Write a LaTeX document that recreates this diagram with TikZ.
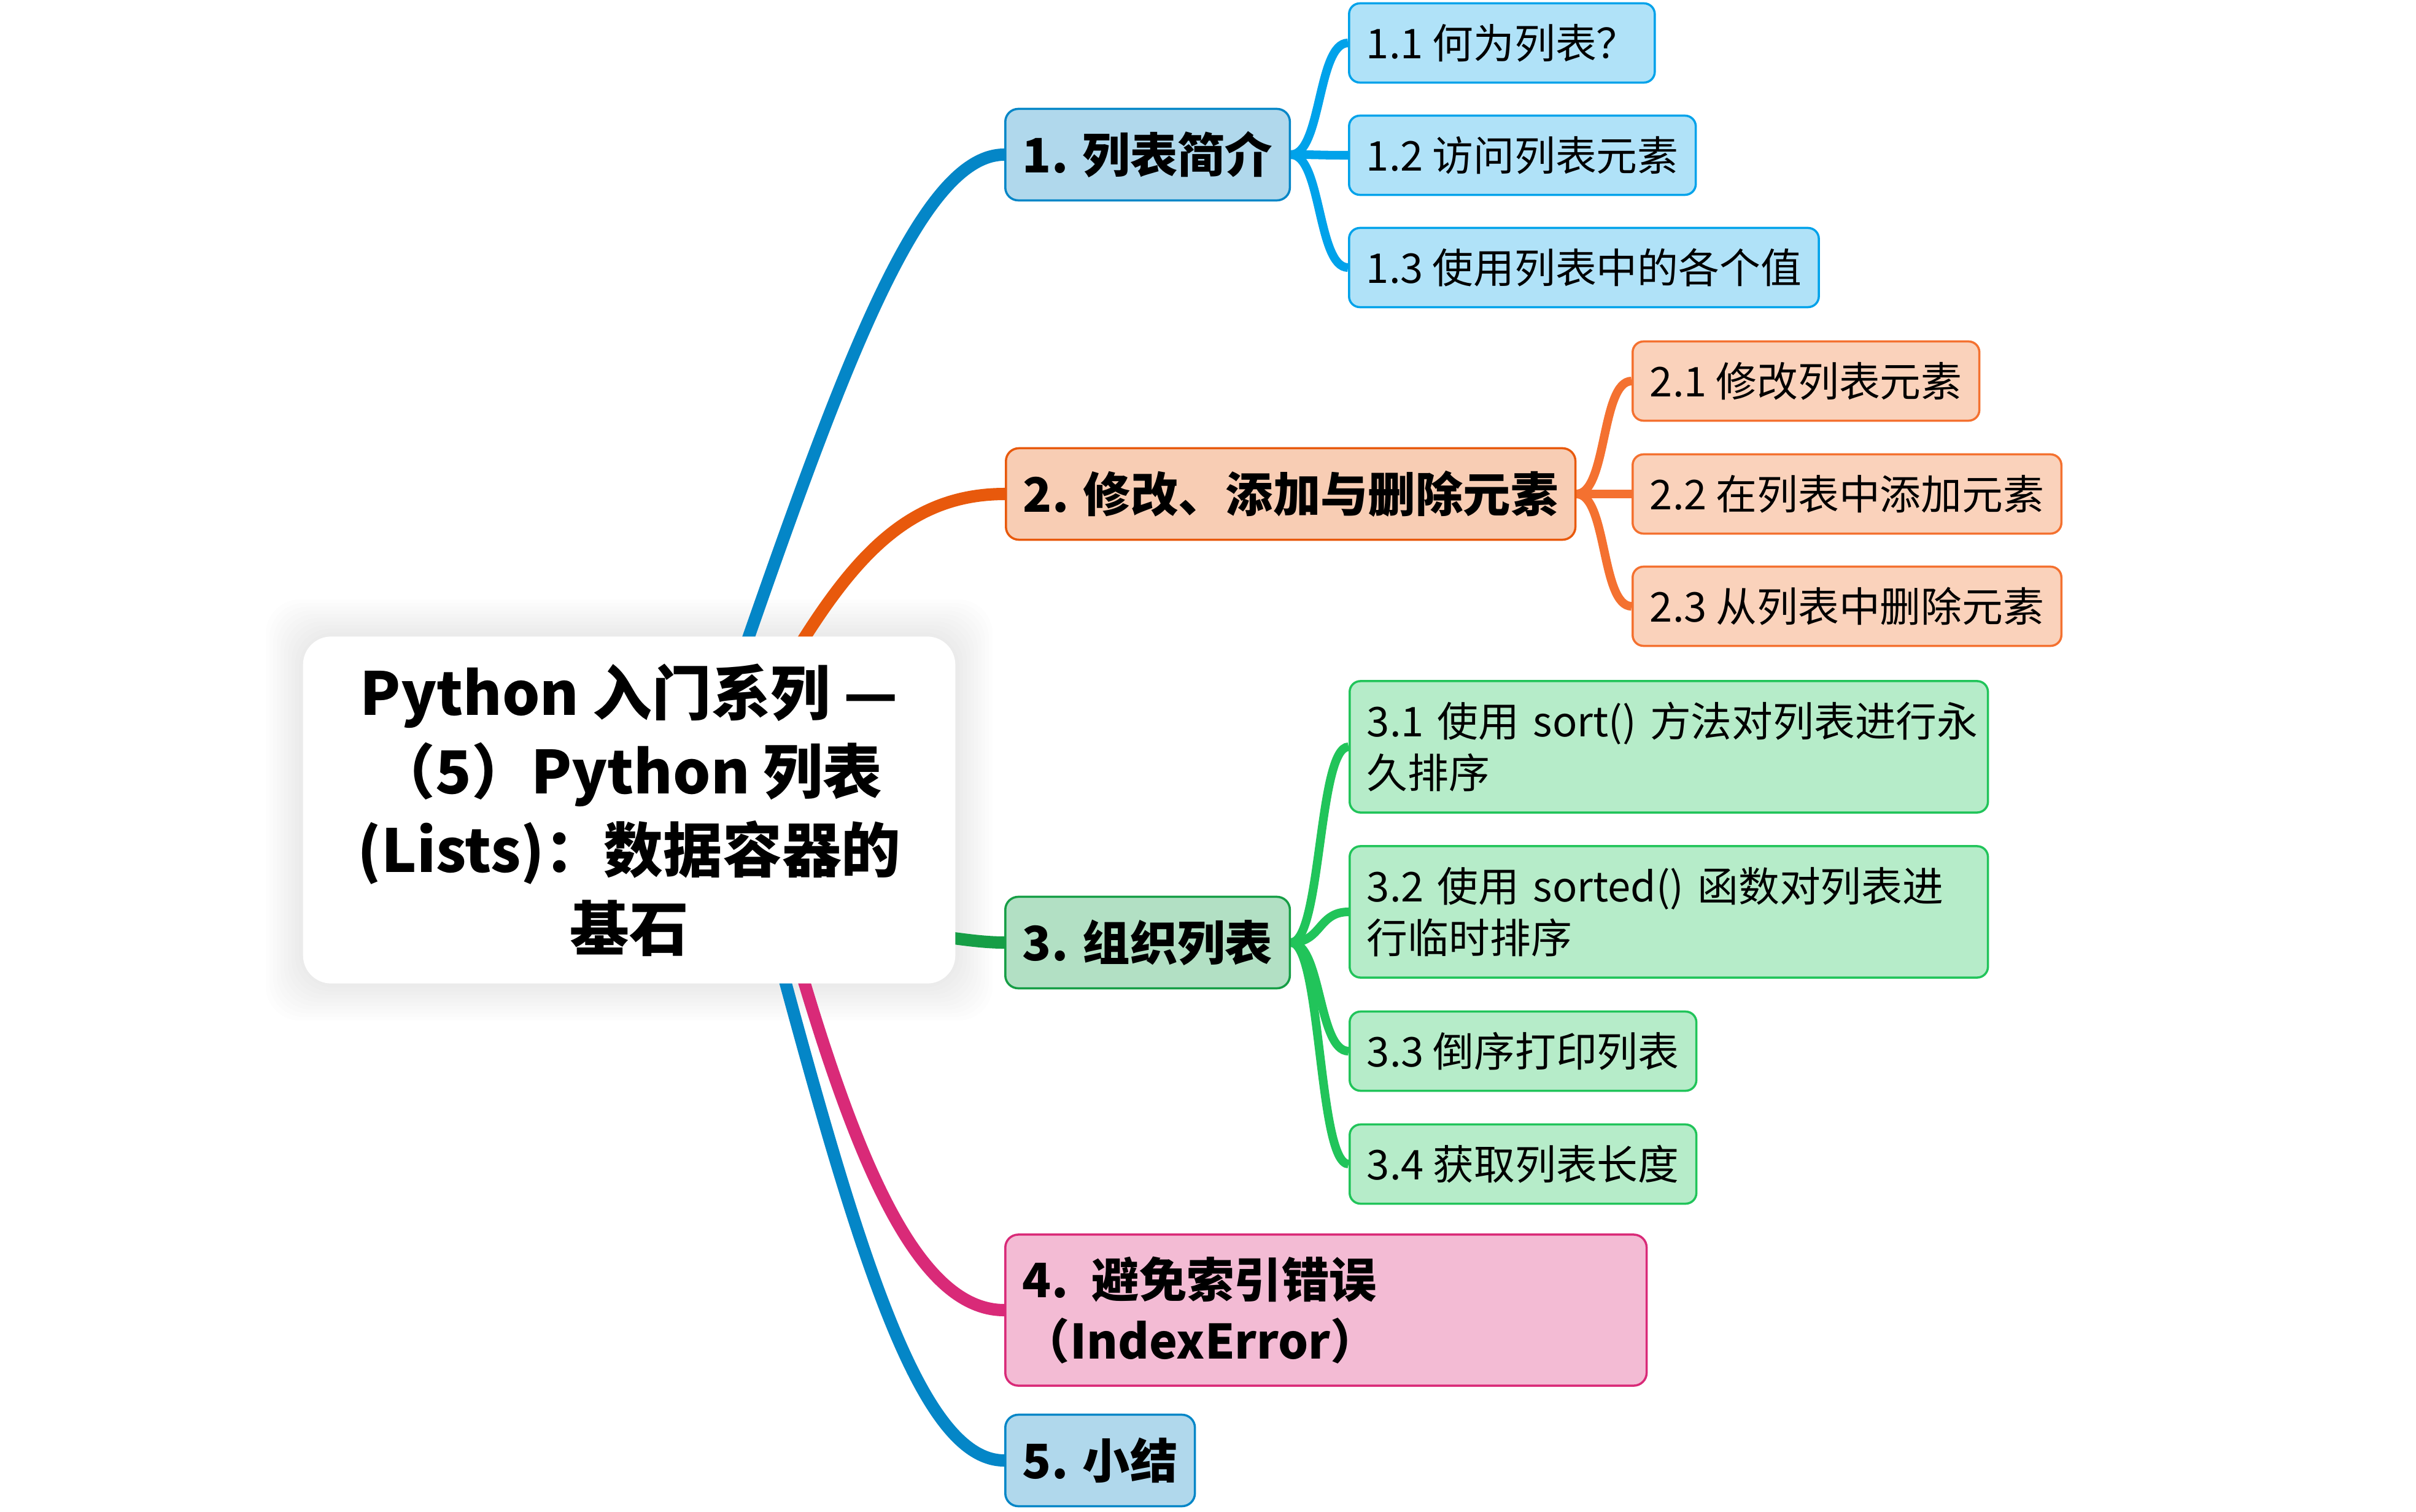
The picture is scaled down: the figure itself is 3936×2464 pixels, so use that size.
\documentclass[tikz,border=0pt]{standalone}
\usepackage{fontspec}
\setmainfont{Noto Sans CJK SC}
\usetikzlibrary{
    calc,
    backgrounds
}
\definecolor{blueline}{HTML}{0486C7}
\definecolor{bluefill}{HTML}{B0D8EC}
\definecolor{bluesubline}{HTML}{00A2EA}
\definecolor{bluesubfill}{HTML}{B0E2F8}
\definecolor{orangeline}{HTML}{E8590C}
\definecolor{orangefill}{HTML}{F8CDB4}
\definecolor{orangesubline}{HTML}{F47130}
\definecolor{orangesubfill}{HTML}{FAD2BB}
\definecolor{greenline}{HTML}{169E46}
\definecolor{greenfill}{HTML}{B2E0C4}
\definecolor{greensubline}{HTML}{21C45A}
\definecolor{greensubfill}{HTML}{B6ECC9}
\definecolor{pinkline}{HTML}{D92A78}
\definecolor{pinkfill}{HTML}{F3BBD4}
\tikzset{
    root/.style={fill=white, rounded corners=13pt, minimum width=10.62cm, minimum height=5.65cm,
        align=center, font=\bfseries\fontsize{27.5pt}{36.4pt}\selectfont},
    topic/.style={draw, line width=1pt, rounded corners=6pt, anchor=west, inner xsep=8pt, inner ysep=2pt,
        minimum height=1.49cm, align=left, font=\bfseries\fontsize{22pt}{28.4pt}\selectfont},
    subtopic/.style={draw, line width=1pt, rounded corners=5pt, anchor=west, inner xsep=8pt, inner ysep=2pt,
        minimum height=1.29cm, align=left, font=\fontsize{19pt}{24pt}\selectfont},
    branch/.style={line width=5.7pt},
    twig/.style={line width=4pt}
}

\begin{document}
\begin{tikzpicture}[x=0.01cm, y=-0.01cm]
    \useasboundingbox (0,0) rectangle (3936,2464);
    % centre
    \node[root] (root) at (1025,1320) {Python 入门系列 —\\（5）Python 列表\\(Lists)：数据容器的\\基石};
    \coordinate (r1) at (1132,1290);
    \coordinate (r2) at (1160,1300);
    \coordinate (r3) at (1300,1505);
    \coordinate (r4) at (1237,1340);
    \coordinate (r5) at (1212,1350);
    % main topics
    \node[topic, fill=bluefill, draw=blueline] (t1) at (1636,252) {1. 列表简介};
    \node[topic, fill=orangefill, draw=orangeline] (t2) at (1637,805) {2. 修改、添加与删除元素};
    \node[topic, fill=greenfill, draw=greenline] (t3) at (1636,1536) {3. 组织列表};
    \node[topic, fill=pinkfill, draw=pinkline, minimum height=2.46cm, text width=9.88cm] (t4) at (1636,2135)
        {4. 避免索引错误\\（IndexError）};
    \node[topic, fill=bluefill, draw=blueline] (t5) at (1636,2380) {5. 小结};
    % subtopics
    \node[subtopic, fill=bluesubfill, draw=bluesubline] (s11) at (2196,70) {1.1 何为列表？};
    \node[subtopic, fill=bluesubfill, draw=bluesubline] (s12) at (2196,253) {1.2 访问列表元素};
    \node[subtopic, fill=bluesubfill, draw=bluesubline] (s13) at (2196,436) {1.3 使用列表中的各个值};
    \node[subtopic, fill=orangesubfill, draw=orangesubline] (s21) at (2658,621) {2.1 修改列表元素};
    \node[subtopic, fill=orangesubfill, draw=orangesubline] (s22) at (2658,805) {2.2 在列表中添加元素};
    \node[subtopic, fill=orangesubfill, draw=orangesubline] (s23) at (2658,988) {2.3 从列表中删除元素};
    \node[subtopic, fill=greensubfill, draw=greensubline, minimum height=2.14cm, text width=9.83cm] (s31) at (2197,1217)
        {\mbox{3.1 使用 sort() 方法对列表进行永}\\久排序};
    \node[subtopic, fill=greensubfill, draw=greensubline, minimum height=2.14cm, text width=9.83cm] (s32) at (2197,1486)
        {\mbox{3.2 使用 sorted() 函数对列表进}\\行临时排序};
    \node[subtopic, fill=greensubfill, draw=greensubline] (s33) at (2197,1713) {3.3 倒序打印列表};
    \node[subtopic, fill=greensubfill, draw=greensubline] (s34) at (2197,1897) {3.4 获取列表长度};
    \begin{scope}[on background layer]
        \fill[white] (0,0) rectangle (3936,2464);
        % soft shadow of the centre
        \foreach \s in {1,...,10}
            \fill[black, opacity=0.007, rounded corners=16pt]
                ($(root.south west)+(-6*\s,6*\s)$) rectangle ($(root.north east)+(6*\s,-6*\s)$);
        % branches
        \draw[branch, blueline] (r1) .. controls (1338,700) and +(-156,0) .. (t1.west);
        \draw[branch, orangeline] (r2) .. controls (1330,1000) and +(-216,0) .. (t2.west);
        \draw[branch, greenline] (r3) .. controls (1480,1510) and +(-76,0) .. (t3.west);
        \draw[branch, pinkline] (r4) .. controls (1360,1800) and +(-166,0) .. (t4.west);
        \draw[branch, blueline] (r5) .. controls (1371,1940) and +(-156,0) .. (t5.west);
        % twigs
        \foreach \s in {s11,s12,s13}
            \draw[twig, bluesubline] (t1.east) .. controls +(50,0) and +(-50,0) .. (\s.west);
        \foreach \s in {s21,s22,s23}
            \draw[twig, orangesubline] (t2.east) .. controls +(50,0) and +(-50,0) .. (\s.west);
        \foreach \s in {s31,s32,s33,s34}
            \draw[twig, greensubline] (t3.east) .. controls +(50,0) and +(-50,0) .. (\s.west);
    \end{scope}
\end{tikzpicture}
\end{document}
